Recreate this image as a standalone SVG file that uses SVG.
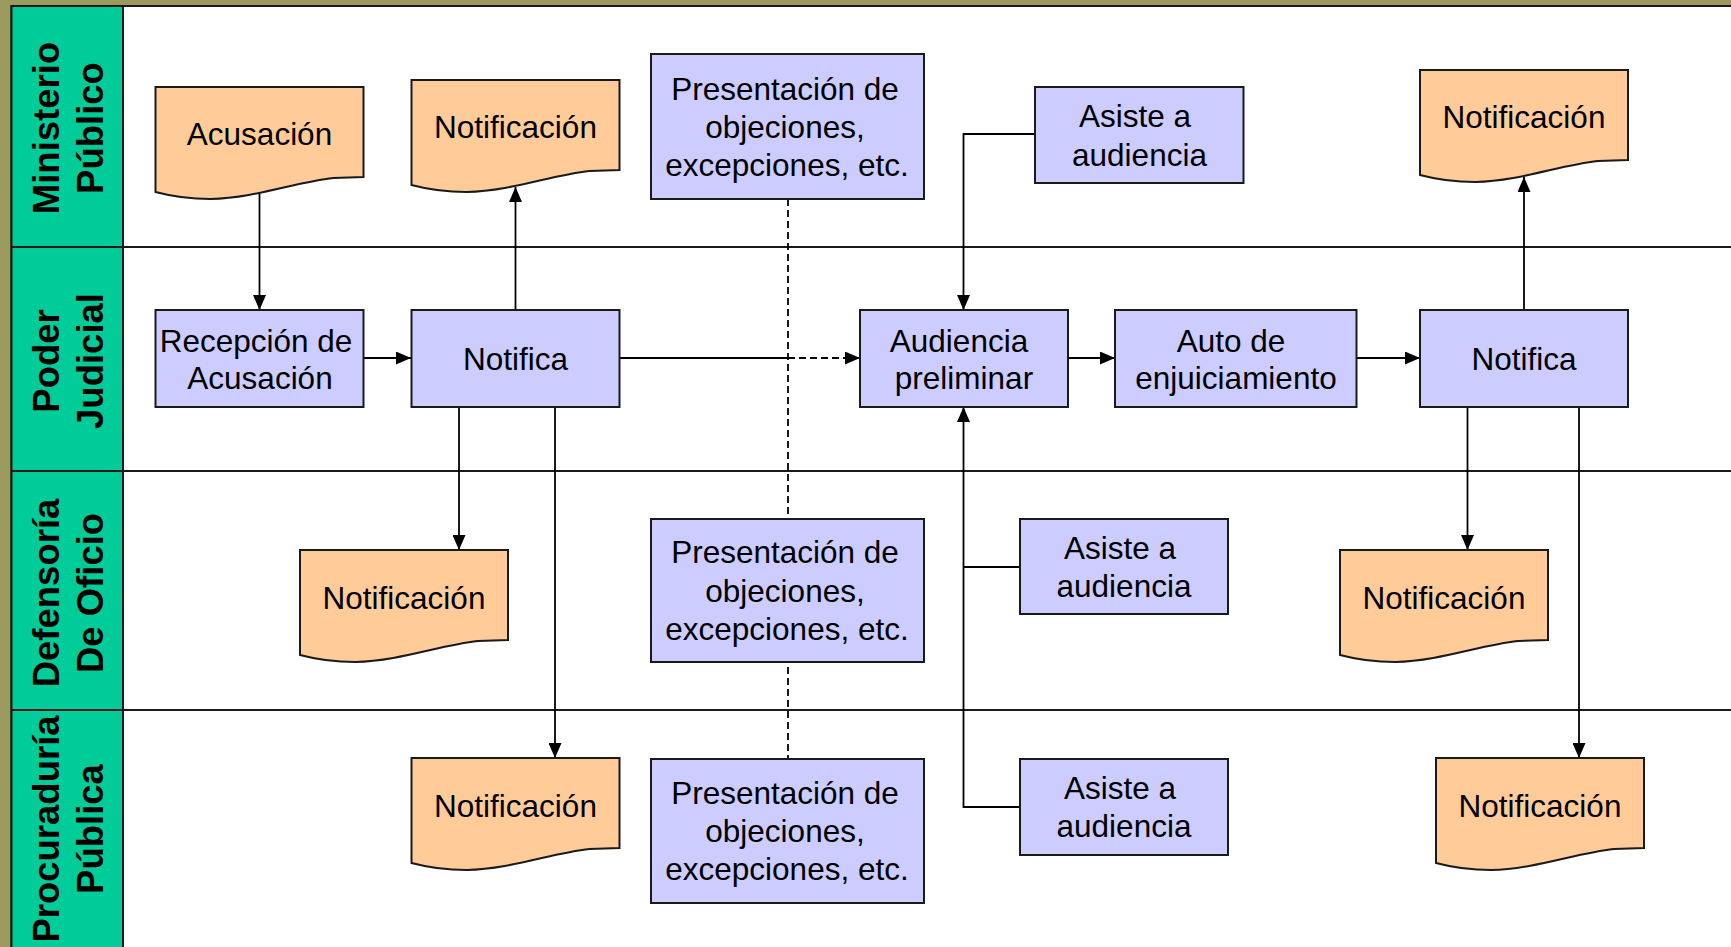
<svg xmlns="http://www.w3.org/2000/svg" width="1731" height="947" viewBox="0 0 1731 947">
<style>
.proc{fill:#CCCCFF;stroke:#1a1a1a;stroke-width:2}
.doc{fill:#FFCC99;stroke:#1a1a1a;stroke-width:2}
.t{font-family:"Liberation Sans",Arial,sans-serif;font-size:31.5px;fill:#000;text-anchor:middle}
.lane{font-family:"Liberation Sans",Arial,sans-serif;font-size:36.5px;font-weight:bold;fill:#000;text-anchor:middle}
.ln{stroke:#1a1a1a;stroke-width:2;fill:none}
.c{stroke:#000;stroke-width:1.8;fill:none}
.d{stroke:#000;stroke-width:1.8;fill:none;stroke-dasharray:7 4}
</style>
<defs>
<marker id="arr" markerWidth="15" markerHeight="13" refX="15" refY="6.5" orient="auto" markerUnits="userSpaceOnUse">
<path d="M0,0 L15,6.5 L0,13 Z" fill="#000"/>
</marker>
<path id="docshape" d="M0,0 H208 V90 L178,91 C140,95 100,111 55,112 C35,112 15,109 0,105 Z"/>
</defs>
<rect x="0" y="0" width="1731" height="947" fill="#9b9b60"/>
<g id="frame">
<rect x="11.5" y="6" width="1730" height="950" fill="#FFFFFF" stroke="#1a1a1a" stroke-width="2"/>
<rect x="11.5" y="6" width="111.5" height="950" fill="#00CC99" stroke="#1a1a1a" stroke-width="2"/>
<line class="ln" x1="11.5" y1="247" x2="1731" y2="247"/>
<line class="ln" x1="11.5" y1="471" x2="1731" y2="471"/>
<line class="ln" x1="11.5" y1="710" x2="1731" y2="710"/>
</g>
<g id="lane-labels">
<text class="lane" transform="rotate(-90)"><tspan x="-128" y="59">Ministerio</tspan><tspan x="-128" y="103">Público</tspan></text>
<text class="lane" transform="rotate(-90)"><tspan x="-361" y="59">Poder</tspan><tspan x="-361" y="103">Judicial</tspan></text>
<text class="lane" transform="rotate(-90)"><tspan x="-593" y="59">Defensoría</tspan><tspan x="-593" y="103">De Oficio</tspan></text>
<text class="lane" transform="rotate(-90)"><tspan x="-829" y="59">Procuraduría</tspan><tspan x="-829" y="103">Pública</tspan></text>
</g>
<g id="connectors">
<path class="c" d="M259.5,193 V310" marker-end="url(#arr)"/>
<path class="c" d="M364,358 H411" marker-end="url(#arr)"/>
<path class="c" d="M515.5,310 V187" marker-end="url(#arr)"/>
<path class="c" d="M459,407 V550" marker-end="url(#arr)"/>
<path class="c" d="M555,407 V758" marker-end="url(#arr)"/>
<path class="c" d="M620,358 H788"/>
<path class="d" d="M788,358 H860" marker-end="url(#arr)"/>
<path class="d" d="M788,199 V519"/>
<path class="d" d="M788,667 V759"/>
<path class="c" d="M1035,134 H963.5 V310" marker-end="url(#arr)"/>
<path class="c" d="M1020,807 H963.5 V407" marker-end="url(#arr)"/>
<path class="c" d="M1020,567 H963.5"/>
<path class="c" d="M1068,358 H1115" marker-end="url(#arr)"/>
<path class="c" d="M1356.5,358 H1420" marker-end="url(#arr)"/>
<path class="c" d="M1524,310 V177" marker-end="url(#arr)"/>
<path class="c" d="M1467.5,407 V550" marker-end="url(#arr)"/>
<path class="c" d="M1579,407 V758" marker-end="url(#arr)"/>
</g>
<g id="acusacion"><use href="#docshape" class="doc" x="155.5" y="87"/><text class="t" x="259.5" y="145">Acusación</text></g>
<g id="notif-mp-1"><use href="#docshape" class="doc" x="411.5" y="80"/><text class="t" x="515.5" y="138">Notificación</text></g>
<g id="presentacion-mp"><rect class="proc" x="651" y="54" width="273" height="145"/><text class="t"><tspan x="785" y="100">Presentación de</tspan><tspan x="785" y="138">objeciones,</tspan><tspan x="787" y="176">excepciones, etc.</tspan></text></g>
<g id="asiste-mp"><rect class="proc" x="1035" y="87" width="208.5" height="96"/><text class="t"><tspan x="1135" y="127">Asiste a</tspan><tspan x="1139.5" y="166">audiencia</tspan></text></g>
<g id="notif-mp-2"><use href="#docshape" class="doc" x="1420" y="70"/><text class="t" x="1524" y="128">Notificación</text></g>
<g id="recepcion"><rect class="proc" x="155.5" y="310" width="208" height="97"/><text class="t"><tspan x="256" y="352">Recepción de</tspan><tspan x="260" y="389">Acusación</tspan></text></g>
<g id="notifica-1"><rect class="proc" x="411.5" y="310" width="208" height="97"/><text class="t" x="515.5" y="370">Notifica</text></g>
<g id="audiencia"><rect class="proc" x="860" y="310" width="208" height="97"/><text class="t"><tspan x="959" y="352">Audiencia</tspan><tspan x="964" y="389">preliminar</tspan></text></g>
<g id="auto"><rect class="proc" x="1115" y="310" width="241.5" height="97"/><text class="t"><tspan x="1231" y="352">Auto de</tspan><tspan x="1236" y="389">enjuiciamiento</tspan></text></g>
<g id="notifica-2"><rect class="proc" x="1420" y="310" width="208" height="97"/><text class="t" x="1524" y="370">Notifica</text></g>
<g id="notif-do-1"><use href="#docshape" class="doc" x="300" y="550"/><text class="t" x="404" y="609">Notificación</text></g>
<g id="presentacion-do"><rect class="proc" x="651" y="519" width="273" height="143"/><text class="t"><tspan x="785" y="563">Presentación de</tspan><tspan x="785" y="602">objeciones,</tspan><tspan x="787" y="640">excepciones, etc.</tspan></text></g>
<g id="asiste-do"><rect class="proc" x="1020" y="519" width="208" height="95"/><text class="t"><tspan x="1120" y="559">Asiste a</tspan><tspan x="1124" y="597">audiencia</tspan></text></g>
<g id="notif-do-2"><use href="#docshape" class="doc" x="1340" y="550"/><text class="t" x="1444" y="609">Notificación</text></g>
<g id="notif-pp-1"><use href="#docshape" class="doc" x="411.5" y="758"/><text class="t" x="515.5" y="817">Notificación</text></g>
<g id="presentacion-pp"><rect class="proc" x="651" y="759" width="273" height="144"/><text class="t"><tspan x="785" y="804">Presentación de</tspan><tspan x="785" y="842">objeciones,</tspan><tspan x="787" y="880">excepciones, etc.</tspan></text></g>
<g id="asiste-pp"><rect class="proc" x="1020" y="759" width="208" height="96"/><text class="t"><tspan x="1120" y="799">Asiste a</tspan><tspan x="1124" y="837">audiencia</tspan></text></g>
<g id="notif-pp-2"><use href="#docshape" class="doc" x="1436" y="758"/><text class="t" x="1540" y="817">Notificación</text></g>
</svg>
